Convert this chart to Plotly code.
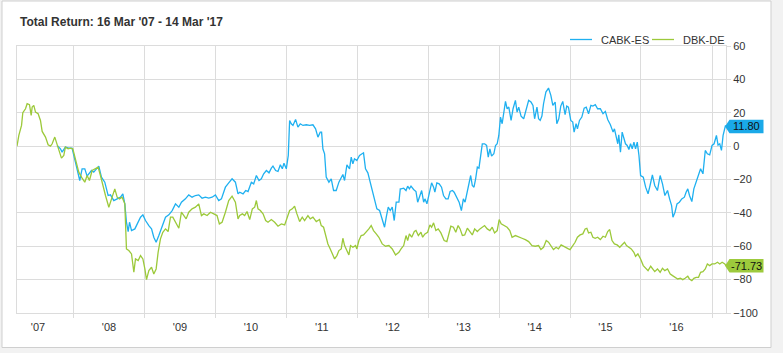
import pandas as pd
import plotly.graph_objects as go

# ---------------- data (decimal years, total return %) ----------------
cabk_years = [
    2007.770, 2007.817, 2007.840, 2007.887, 2007.934, 2007.981, 2008.028, 2008.066, 2008.089, 2008.122,
    2008.160, 2008.192, 2008.216, 2008.254, 2008.286, 2008.319, 2008.357, 2008.394, 2008.441, 2008.488,
    2008.521, 2008.568, 2008.615, 2008.662, 2008.695, 2008.723, 2008.746, 2008.770, 2008.789, 2008.817,
    2008.864, 2008.911, 2008.944, 2008.977, 2009.014, 2009.061, 2009.099, 2009.131, 2009.164, 2009.202,
    2009.249, 2009.296, 2009.343, 2009.390, 2009.437, 2009.484, 2009.521, 2009.577, 2009.624, 2009.671,
    2009.718, 2009.765, 2009.812, 2009.859, 2009.906, 2009.953, 2010.000, 2010.047, 2010.085, 2010.141,
    2010.188, 2010.235, 2010.282, 2010.319,
    2010.343, 2010.390, 2010.427, 2010.460, 2010.507, 2010.540, 2010.578, 2010.615, 2010.648, 2010.681,
    2010.719, 2010.756, 2010.789, 2010.812, 2010.850, 2010.883, 2010.916, 2010.944, 2010.967, 2011.000,
    2011.028, 2011.047, 2011.070, 2011.094, 2011.131, 2011.164, 2011.197, 2011.235, 2011.282, 2011.329,
    2011.376, 2011.413, 2011.446, 2011.479, 2011.498, 2011.516, 2011.540, 2011.563, 2011.601, 2011.634,
    2011.667, 2011.704, 2011.742, 2011.775, 2011.798, 2011.822, 2011.855, 2011.892, 2011.916, 2011.939,
    2011.962, 2011.995, 2012.033, 2012.089, 2012.117, 2012.150, 2012.183, 2012.211, 2012.244, 2012.277,
    2012.315, 2012.352, 2012.385, 2012.409, 2012.437, 2012.465, 2012.493, 2012.521, 2012.549, 2012.587,
    2012.606,
    2012.617, 2012.654, 2012.687, 2012.710, 2012.734, 2012.757, 2012.794, 2012.827, 2012.851, 2012.874,
    2012.907, 2012.935, 2012.953, 2012.981, 2013.014, 2013.047, 2013.075, 2013.093, 2013.121, 2013.154,
    2013.187, 2013.215, 2013.248, 2013.280, 2013.308, 2013.341, 2013.365, 2013.388, 2013.411, 2013.435,
    2013.467, 2013.495, 2013.519, 2013.551, 2013.575, 2013.598, 2013.621, 2013.645, 2013.668, 2013.692,
    2013.715, 2013.738, 2013.762, 2013.795, 2013.823, 2013.846, 2013.869, 2013.893, 2013.925, 2013.949,
    2013.972, 2013.995, 2014.019, 2014.042, 2014.066, 2014.089, 2014.112, 2014.136, 2014.168, 2014.196,
    2014.229, 2014.253, 2014.276, 2014.309, 2014.346, 2014.383, 2014.416, 2014.449, 2014.477, 2014.500,
    2014.533, 2014.556, 2014.579, 2014.603, 2014.626, 2014.659, 2014.696, 2014.729, 2014.757, 2014.790,
    2014.813, 2014.841, 2014.869, 2014.897, 2014.930, 2014.953, 2014.977,
    2015.010, 2015.038, 2015.057, 2015.085, 2015.104, 2015.133, 2015.166, 2015.199, 2015.228, 2015.261,
    2015.294, 2015.322, 2015.356, 2015.389, 2015.427, 2015.465, 2015.498, 2015.531, 2015.569, 2015.607,
    2015.626, 2015.654, 2015.673, 2015.687, 2015.711, 2015.735, 2015.758, 2015.782, 2015.806, 2015.830,
    2015.853, 2015.877, 2015.901, 2015.924, 2015.948, 2015.972, 2015.995, 2016.033, 2016.066, 2016.100,
    2016.128, 2016.161, 2016.194, 2016.232, 2016.270, 2016.303, 2016.337, 2016.374, 2016.403, 2016.431,
    2016.450, 2016.479, 2016.507, 2016.540, 2016.574, 2016.611, 2016.635, 2016.659, 2016.683, 2016.716,
    2016.744, 2016.777, 2016.810, 2016.839, 2016.872, 2016.905, 2016.934, 2016.967, 2017.000, 2017.029,
    2017.062, 2017.085, 2017.109, 2017.133, 2017.156, 2017.190, 2017.197,
]
cabk_values = [
    0.4, -1.6, -3.6, -0.6, -1.2, -1.2, -9.6, -16.6, -20.6, -13.6,
    -13.6, -18.0, -16.6, -14.6, -15.6, -13.6, -12.0, -18.6, -21.6, -29.6,
    -29.2, -32.6, -31.6, -30.6, -28.6, -34.6, -45.6, -51.2, -45.6, -50.6,
    -49.6, -45.6, -42.6, -41.2, -44.6, -47.6, -49.6, -54.6, -57.6, -53.6,
    -48.6, -42.6, -41.2, -38.6, -34.6, -36.6, -33.6, -31.6, -29.2, -30.6,
    -29.6, -29.2, -31.2, -30.6, -31.2, -30.6, -29.2, -32.6, -31.6, -24.6,
    -22.0, -19.6, -21.6, -28.6,
    -27.6, -28.6, -26.6, -27.2, -21.6, -22.6, -17.6, -20.6, -19.6, -16.6,
    -14.6, -16.0, -13.2, -12.0, -14.6, -15.2, -11.2, -13.6, -10.2, -13.6,
    -5.6, 15.4, 13.4, 12.4, 16.0, 11.4, 13.4, 12.4, 12.8, 12.4,
    12.8, 10.4, 5.4, 8.4, 8.4, -1.6, -4.6, -18.6, -21.6, -19.6,
    -26.6, -26.6, -21.6, -19.2, -17.0, -20.6, -11.2, -13.6, -6.6, -10.6,
    -7.6, -8.6, -5.6, -4.0, -13.6, -16.0, -21.6, -27.6, -33.6, -37.6,
    -38.6, -44.6, -48.6, -42.6, -36.6, -38.6, -36.6, -44.6, -33.6, -33.6,
    -25.6,
    -25.6, -25.2, -26.6, -24.0, -25.6, -24.0, -26.0, -27.2, -33.6, -30.6,
    -26.6, -33.6, -31.6, -34.6, -27.6, -22.0, -24.6, -27.6, -22.0, -22.6,
    -24.6, -29.6, -31.6, -31.6, -27.2, -26.6, -27.6, -29.6, -31.2, -33.6,
    -38.6, -31.6, -33.6, -27.6, -23.6, -17.6, -23.6, -24.6, -19.6, -12.6,
    -13.2, -5.6, 1.4, 1.4, 0.4, -6.6, -1.6, -6.0, -4.6, 0.4,
    1.4, 6.4, 17.4, 13.4, 21.4, 26.8, 22.4, 23.4, 15.4, 22.4,
    27.4, 20.4, 23.4, 18.0, 16.4, 22.4, 27.4, 26.4, 24.4, 16.4,
    23.4, 16.4, 15.4, 18.0, 25.4, 32.4, 34.8, 30.4, 24.4, 26.4,
    13.4, 16.4, 24.0, 26.8, 18.8, 24.0, 23.4,
    15.4, 14.4, 8.4, 13.4, 10.4, 15.4, 17.4, 22.8, 23.4, 19.4,
    24.4, 24.0, 24.8, 22.4, 22.4, 19.4, 20.8, 16.0, 12.8, 8.4,
    10.4, 4.4, 1.4, 6.8, -3.6, 8.4, 5.4, 1.4, 0.4, -2.0,
    1.4, -1.6, 2.4, -1.6, 2.4, -5.6, -17.6, -18.6, -24.6, -28.6,
    -23.6, -17.2, -23.6, -26.6, -17.6, -22.6, -29.6, -26.6, -31.6, -35.6,
    -42.6, -39.6, -34.6, -33.6, -31.6, -30.6, -27.6, -25.6, -29.6, -33.2,
    -25.6, -21.6, -17.6, -13.6, -16.6, -2.6, -4.6, -5.2, 0.4, 1.4,
    6.4, 0.6, 1.4, -2.6, 6.4, 12.4, 11.80,
]

dbk_years = [
    2007.204, 2007.230, 2007.268, 2007.286, 2007.324, 2007.347, 2007.380, 2007.404, 2007.418, 2007.441,
    2007.465, 2007.502, 2007.535, 2007.559, 2007.606, 2007.643, 2007.676, 2007.700, 2007.737, 2007.770,
    2007.793, 2007.831, 2007.864, 2007.887, 2007.925, 2007.958, 2007.991, 2008.028, 2008.075, 2008.122,
    2008.160, 2008.192, 2008.225, 2008.263, 2008.310, 2008.347, 2008.380, 2008.413, 2008.451, 2008.498,
    2008.545, 2008.582, 2008.615, 2008.648, 2008.685, 2008.723, 2008.746, 2008.779, 2008.817, 2008.850,
    2008.873, 2008.911, 2008.944, 2008.977, 2009.005, 2009.028, 2009.061, 2009.099, 2009.131, 2009.164,
    2009.192, 2009.225, 2009.258, 2009.296, 2009.333, 2009.366, 2009.399, 2009.437, 2009.484, 2009.521,
    2009.554, 2009.587, 2009.624, 2009.671, 2009.718, 2009.765, 2009.803, 2009.836, 2009.883, 2009.930,
    2009.977, 2010.023, 2010.056, 2010.094, 2010.141, 2010.188, 2010.235, 2010.282, 2010.319,
    2010.343, 2010.381, 2010.413, 2010.446, 2010.484, 2010.521, 2010.554, 2010.578, 2010.601, 2010.634,
    2010.672, 2010.709, 2010.742, 2010.789, 2010.836, 2010.883, 2010.930, 2010.977, 2011.009, 2011.047,
    2011.085, 2011.117, 2011.150, 2011.188, 2011.225, 2011.258, 2011.305, 2011.338, 2011.376, 2011.423,
    2011.469, 2011.493, 2011.526, 2011.554, 2011.587, 2011.620, 2011.657, 2011.681, 2011.714, 2011.742,
    2011.775, 2011.798, 2011.822, 2011.854, 2011.883, 2011.906, 2011.939, 2011.977, 2011.995, 2012.024,
    2012.056, 2012.089, 2012.127, 2012.164, 2012.197, 2012.230, 2012.268, 2012.305, 2012.352, 2012.399,
    2012.446, 2012.493, 2012.540, 2012.587,
    2012.617, 2012.654, 2012.687, 2012.710, 2012.734, 2012.767, 2012.804, 2012.827, 2012.860, 2012.897,
    2012.921, 2012.953, 2012.991, 2013.023, 2013.047, 2013.075, 2013.107, 2013.140, 2013.178, 2013.224,
    2013.262, 2013.294, 2013.318, 2013.355, 2013.388, 2013.421, 2013.449, 2013.481, 2013.514, 2013.551,
    2013.589, 2013.621, 2013.654, 2013.692, 2013.729, 2013.762, 2013.794, 2013.832, 2013.869, 2013.902,
    2013.935, 2013.972, 2014.000, 2014.028, 2014.065, 2014.112, 2014.150, 2014.182, 2014.229, 2014.276,
    2014.322, 2014.369, 2014.416, 2014.463, 2014.509, 2014.556, 2014.589, 2014.626, 2014.664, 2014.696,
    2014.729, 2014.766, 2014.804, 2014.836, 2014.874, 2014.907, 2014.944, 2014.977,
    2015.000, 2015.038, 2015.071, 2015.104, 2015.142, 2015.180, 2015.213, 2015.237, 2015.261, 2015.294,
    2015.322, 2015.355, 2015.389, 2015.427, 2015.465, 2015.498, 2015.531, 2015.559, 2015.592, 2015.626,
    2015.664, 2015.701, 2015.735, 2015.768, 2015.796, 2015.829, 2015.863, 2015.900, 2015.924, 2015.957,
    2015.995, 2016.033, 2016.066, 2016.100, 2016.137, 2016.166, 2016.194, 2016.232, 2016.270, 2016.303,
    2016.336, 2016.374, 2016.412, 2016.445, 2016.479, 2016.517, 2016.555, 2016.588, 2016.621, 2016.659,
    2016.682, 2016.716, 2016.744, 2016.777, 2016.810, 2016.839, 2016.872, 2016.905, 2016.934, 2016.967,
    2017.000, 2017.038, 2017.076, 2017.109, 2017.142, 2017.180, 2017.197,
]
dbk_values = [
    0.0, 6.4, 12.4, 20.0, 22.4, 25.4, 24.8, 18.4, 23.4, 24.4,
    20.4, 19.4, 15.4, 8.8, 5.4, 0.8, 0.0, 1.4, 5.4, 1.4,
    -1.6, -7.2, -5.6, -0.6, -1.6, -1.2, -1.6, -8.6, -15.6, -19.2,
    -21.6, -17.6, -20.6, -14.6, -13.6, -12.6, -17.6, -23.6, -29.6, -36.6,
    -30.6, -25.6, -30.6, -31.6, -30.6, -34.6, -61.6, -62.6, -64.6, -75.6,
    -67.6, -68.6, -65.6, -67.6, -73.6, -80.0, -74.6, -72.6, -76.6, -73.6,
    -63.6, -55.6, -51.6, -49.6, -51.2, -42.6, -42.6, -45.6, -49.2, -39.6,
    -41.6, -43.6, -39.6, -37.6, -36.6, -34.6, -41.6, -40.6, -41.6, -39.6,
    -40.6, -41.6, -46.6, -45.6, -39.6, -32.6, -30.0, -33.6, -43.6,
    -41.6, -40.6, -41.6, -39.2, -44.0, -37.6, -36.6, -32.6, -37.6, -38.6,
    -40.6, -44.6, -45.6, -44.0, -45.6, -48.0, -46.6, -47.2, -43.6, -38.6,
    -37.6, -36.0, -40.6, -45.2, -42.6, -44.6, -41.6, -43.6, -42.6, -45.2,
    -44.0, -47.6, -48.6, -53.6, -58.6, -61.6, -65.6, -67.6, -65.6, -62.6,
    -61.6, -55.2, -59.6, -62.6, -65.2, -59.6, -60.6, -59.6, -61.6, -56.6,
    -53.6, -53.2, -51.6, -49.6, -47.6, -50.6, -52.6, -54.6, -58.6, -60.0,
    -59.6, -61.6, -65.2, -63.6,
    -61.6, -59.6, -53.6, -56.6, -52.6, -54.6, -51.2, -50.6, -53.6, -51.6,
    -54.6, -52.6, -51.6, -47.2, -48.6, -46.0, -50.6, -49.6, -52.0, -56.6,
    -57.2, -52.6, -48.0, -48.6, -51.6, -47.6, -49.6, -53.6, -53.2, -49.2,
    -51.6, -53.2, -49.6, -51.2, -49.6, -48.6, -47.6, -49.6, -50.6, -48.6,
    -52.0, -50.6, -44.0, -46.6, -47.6, -48.6, -50.6, -54.6, -53.6, -54.6,
    -55.2, -56.0, -57.2, -59.6, -60.0, -59.6, -62.0, -60.6, -56.6, -57.6,
    -60.0, -62.0, -60.6, -61.6, -59.2, -60.0, -61.2, -61.6,
    -62.0, -59.6, -57.6, -54.6, -53.2, -52.6, -49.6, -49.2, -52.0, -51.6,
    -54.6, -55.2, -54.6, -56.0, -54.0, -54.6, -51.2, -50.0, -56.6, -58.6,
    -59.2, -60.6, -59.2, -57.6, -59.6, -60.6, -61.6, -63.6, -66.0, -64.6,
    -67.6, -71.6, -73.2, -74.6, -72.0, -73.6, -75.2, -73.6, -75.6, -73.2,
    -74.6, -73.6, -76.6, -77.6, -78.6, -79.6, -79.2, -80.0, -79.2, -78.0,
    -79.6, -80.6, -79.2, -78.6, -78.6, -75.6, -75.2, -73.6, -70.6, -71.6,
    -70.6, -70.6, -69.6, -70.6, -69.6, -70.6, -71.73,
]

series_names = ["CABK-ES", "DBK-DE"]
y_ticks = [-100, -80, -60, -40, -20, 0, 20, 40, 60]
title_text = "Total Return: 16 Mar '07 - 14 Mar '17"

# ---------------- styles ----------------
BLUE = "#1fb0f0"
GREEN = "#9cc93a"
BLUE_BOX = "#1aa9e8"
GREEN_BOX = "#9dca3c"
GRID = "#dcdcdc"
FONT = "Arial, Liberation Sans, sans-serif"
W, H = 783, 353
ML, MR, MT, MB = 17, 57, 46, 40
PW, PH = W - ML - MR, H - MT - MB


def to_date(y):
    yr = int(y)
    start = pd.Timestamp(year=yr, month=1, day=1)
    days = 366 if (yr % 4 == 0) else 365
    return start + pd.Timedelta(days=(y - yr) * days)


cabk_dates = [to_date(v) for v in cabk_years]
dbk_dates = [to_date(v) for v in dbk_years]
colors = [BLUE, GREEN]

fig = go.Figure()
fig.add_trace(go.Scatter(x=cabk_dates, y=cabk_values, mode="lines", name=series_names[0],
                         line=dict(color=BLUE, width=1.3), showlegend=False))
fig.add_trace(go.Scatter(x=dbk_dates, y=dbk_values, mode="lines", name=series_names[1],
                         line=dict(color=GREEN, width=1.3), showlegend=False))


def px_x(p):
    return (p - ML) / PW


def px_y(p):
    return (H - MB - p) / PH


shapes = [
    dict(type="rect", xref="paper", yref="paper", layer="below",
         x0=px_x(2), x1=px_x(771), y0=px_y(347.5), y1=px_y(1),
         fillcolor="white", line=dict(color="#cfcfcf", width=1)),
]
annotations = []

# custom legend (short line samples as in the reference)
legend_y = px_y(39.5)
for name, col, lx in zip(series_names, colors, [570, 652]):
    shapes.append(dict(type="line", xref="paper", yref="paper",
                       x0=px_x(lx), x1=px_x(lx + 22), y0=legend_y, y1=legend_y,
                       line=dict(color=col, width=1.3)))
    annotations.append(dict(xref="paper", yref="paper", x=px_x(lx + 29), y=legend_y,
                            text=name, showarrow=False, xanchor="left", yanchor="middle",
                            font=dict(family=FONT, size=11, color="#333")))

units_per_px = (y_ticks[-1] - y_ticks[0]) / PH
for val, fill in [(cabk_values[-1], BLUE_BOX), (dbk_values[-1], GREEN_BOX)]:
    h = 6.8 * units_per_px
    xa, xb, xc = px_x(725), px_x(729.5), px_x(763.5)
    path = (f"M {xa},{val} L {xb},{val + h} L {xc},{val + h} "
            f"L {xc},{val - h} L {xb},{val - h} Z")
    shapes.append(dict(type="path", xref="paper", yref="y", path=path,
                       fillcolor=fill, line=dict(width=0), layer="above"))
    annotations.append(dict(xref="paper", yref="y", x=px_x(746), y=val,
                            text=f"{val:.2f}", showarrow=False,
                            xanchor="center", yanchor="middle",
                            font=dict(family=FONT, size=11, color="#111")))

fig.update_layout(
    width=W, height=H,
    margin=dict(l=ML, r=MR, t=MT, b=MB, pad=0),
    paper_bgcolor="#f2f2f2",
    plot_bgcolor="white",
    font=dict(family=FONT, size=11, color="#333"),
    title=dict(text=title_text, x=20 / W, xanchor="left", xref="container",
               y=1 - 21.5 / H, yanchor="middle", yref="container",
               font=dict(family=FONT, size=12, color="#333", weight="bold")),
    shapes=shapes,
    annotations=annotations,
    showlegend=False,
    hovermode=False,
)
fig.update_xaxes(
    type="date",
    range=[dbk_dates[0], dbk_dates[-1]],
    dtick="M12", tick0="2007-01-01", ticklabelmode="period", tickformat="'%y",
    ticks="outside", ticklen=4, tickcolor=GRID,
    showgrid=True, gridcolor=GRID, gridwidth=1,
    showline=True, linecolor=GRID, linewidth=1, mirror=True,
    tickfont=dict(size=11, color="#333"),
)
fig.update_yaxes(
    side="right", range=[y_ticks[0], y_ticks[-1]], tickvals=y_ticks,
    ticks="outside", ticklen=4, tickcolor=GRID,
    showgrid=True, gridcolor=GRID, gridwidth=1, zeroline=False,
    showline=True, linecolor=GRID, linewidth=1, mirror=True,
    tickfont=dict(size=11, color="#333"),
)

fig.write_html("out.html")
